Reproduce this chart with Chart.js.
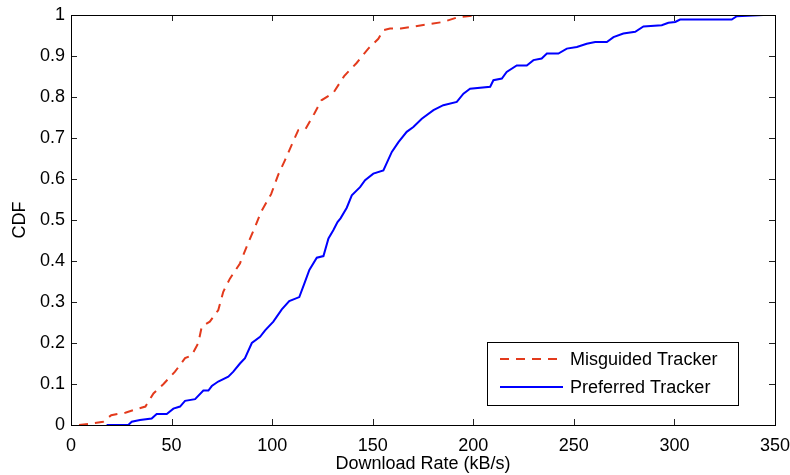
<!DOCTYPE html>
<html>
<head>
<meta charset="utf-8">
<script src="https://cdn.jsdelivr.net/npm/chart.js@4.4.1/dist/chart.umd.min.js"></script>
<style>
  html, body { margin: 0; padding: 0; background: #fff; }
  #chart { display: block; }
</style>
</head>
<body>
<canvas id="chart" width="790" height="475"></canvas>
<script>
// CDF of download rate
const misguidedRate = [4, 9, 16, 20, 27, 33.5, 37, 41, 46, 51.7, 56.7, 60, 63.3, 65, 69, 73.2, 75.7, 79, 84, 88,
    91.5, 94.5, 99.5, 103, 106.4, 110.5, 113, 116.5, 121, 124.5, 130.4, 135.8, 142, 147.8, 152.8, 155.3,
    158.6, 164, 174.4, 185, 192.6, 203.4];
const misguidedCdf = [0, 0.003, 0.008, 0.024, 0.03, 0.04, 0.045, 0.077, 0.10, 0.13, 0.163, 0.17, 0.2, 0.24, 0.252,
    0.28, 0.325, 0.357, 0.394, 0.443, 0.483, 0.52, 0.563, 0.61, 0.646, 0.692, 0.719, 0.721, 0.76, 0.792, 0.81,
    0.851, 0.883, 0.918, 0.942, 0.963, 0.967, 0.967, 0.975, 0.983, 0.995, 1.0];

const preferredRate = [17.7, 28.5, 30.2, 34.3, 40.1, 42.6, 47.6, 50.9, 54.2, 56.7, 61.7, 65.8, 68.3, 70, 73.2, 78.2,
    80.7, 84, 86.5, 89.9, 94, 96.5, 100.6, 104.8, 108.5, 113.5, 116, 118.5, 122.2, 125.5, 128, 130.4, 132.5, 134,
    137.1, 139.6, 143.7, 146.2, 150.3, 155.3, 159.5, 162.8, 166.9, 170.2, 174.4, 180.2, 185.1, 191.8, 195.1,
    198.4, 208.4, 210, 214.2, 216.6, 221.6, 226.6, 229.9, 234, 236.6, 242.3, 246.5, 251.5, 256.4, 260.6, 266.4,
    269.7, 274.6, 280.5, 284.6, 293.7, 297, 300.4, 302.8, 328.5, 331, 344.3];
const preferredCdf = [0, 0, 0.008, 0.012, 0.016, 0.027, 0.027, 0.04, 0.045, 0.059, 0.063, 0.084, 0.084, 0.095, 0.106,
    0.118, 0.13, 0.15, 0.163, 0.2, 0.215, 0.231, 0.252, 0.282, 0.302, 0.312, 0.345, 0.378, 0.408, 0.412, 0.455,
    0.475, 0.495, 0.504, 0.53, 0.56, 0.58, 0.597, 0.613, 0.621, 0.666, 0.69, 0.715, 0.727, 0.747, 0.768, 0.78,
    0.788, 0.808, 0.82, 0.825, 0.841, 0.845, 0.861, 0.877, 0.877, 0.89, 0.894, 0.906, 0.906, 0.918, 0.922, 0.93,
    0.934, 0.934, 0.946, 0.955, 0.959, 0.972, 0.975, 0.981, 0.983, 0.989, 0.989, 0.997, 1.0];

const xTicks = [0, 50, 100, 150, 200, 250, 300, 350];
const yTicks = [0, 0.1, 0.2, 0.3, 0.4, 0.5, 0.6, 0.7, 0.8, 0.9, 1];
const yTickLabels = ['0', '0.1', '0.2', '0.3', '0.4', '0.5', '0.6', '0.7', '0.8', '0.9', '1'];

const FONT = '"Liberation Sans", Arial, Helvetica, sans-serif';

function toPoints(xs, ys) {
    return xs.map(function(x, i) { return { x: x, y: ys[i] }; });
}

// MATLAB style frame with inward ticks on all four sides
const framePlugin = {
    id: 'frame',
    afterDatasetsDraw: function(chart) {
        const ctx = chart.ctx;
        const a = chart.chartArea;
        const xs = chart.scales.x;
        const ys = chart.scales.y;
        const len = 6;
        ctx.save();
        ctx.strokeStyle = '#222';
        ctx.lineWidth = 1;
        ctx.beginPath();
        xTicks.forEach(function(v) {
            const px = Math.round(xs.getPixelForValue(v)) + 0.5;
            ctx.moveTo(px, a.bottom); ctx.lineTo(px, a.bottom - len);
            ctx.moveTo(px, a.top); ctx.lineTo(px, a.top + len);
        });
        yTicks.forEach(function(v) {
            const py = Math.round(ys.getPixelForValue(v)) + 0.5;
            ctx.moveTo(a.left, py); ctx.lineTo(a.left + len, py);
            ctx.moveTo(a.right, py); ctx.lineTo(a.right - len, py);
        });
        ctx.stroke();
        ctx.strokeStyle = '#000';
        ctx.strokeRect(Math.round(a.left) + 0.5, Math.round(a.top) + 0.5,
            Math.round(a.right - a.left), Math.round(a.bottom - a.top));
        ctx.restore();
    }
};

// Boxed legend in the lower right corner of the plot
const boxLegendPlugin = {
    id: 'boxLegend',
    afterDraw: function(chart) {
        const ctx = chart.ctx;
        const a = chart.chartArea;
        const w = 251, h = 63;
        const x0 = a.right - 37 - w;
        const y0 = a.bottom - 20 - h;
        ctx.save();
        ctx.fillStyle = '#fff';
        ctx.fillRect(x0, y0, w, h);
        ctx.strokeStyle = '#000';
        ctx.lineWidth = 1;
        ctx.strokeRect(x0 + 0.5, y0 + 0.5, w, h);
        chart.data.datasets.forEach(function(ds, i) {
            const y = y0 + 17 + i * 28;
            ctx.strokeStyle = ds.borderColor;
            ctx.lineWidth = ds.borderWidth;
            ctx.setLineDash(ds.borderDash || []);
            ctx.beginPath();
            ctx.moveTo(x0 + 13, y);
            ctx.lineTo(x0 + 76, y);
            ctx.stroke();
            ctx.setLineDash([]);
            ctx.fillStyle = '#000';
            ctx.font = '18px ' + FONT;
            ctx.textBaseline = 'middle';
            ctx.fillText(ds.label, x0 + 83, y + 1);
        });
        ctx.restore();
    }
};

new Chart(document.getElementById('chart'), {
    type: 'line',
    data: {
        datasets: [{
            label: 'Misguided Tracker',
            data: toPoints(misguidedRate, misguidedCdf),
            borderColor: '#e33a1c',
            borderWidth: 2,
            borderDash: [9, 7],
            pointRadius: 0,
            fill: false,
            tension: 0
        }, {
            label: 'Preferred Tracker',
            data: toPoints(preferredRate, preferredCdf),
            borderColor: '#0000ff',
            borderWidth: 2,
            pointRadius: 0,
            fill: false,
            tension: 0
        }]
    },
    options: {
        responsive: false,
        animation: false,
        layout: { padding: { top: 15, right: 15, left: 0, bottom: 0 } },
        plugins: {
            legend: { display: false },
            tooltip: { enabled: false }
        },
        scales: {
            x: {
                type: 'linear',
                min: 0,
                max: 350,
                afterFit: function(s) {
                    s.height = 50;
                    s.paddingLeft = 0;
                    s.paddingRight = 0;
                },
                afterBuildTicks: function(s) { s.ticks = xTicks.map(function(v) { return { value: v }; }); },
                grid: { display: false, drawTicks: false },
                border: { display: false },
                ticks: {
                    color: '#000',
                    padding: 10,
                    maxRotation: 0,
                    font: { family: FONT, size: 18 }
                },
                title: {
                    display: true,
                    text: 'Download Rate (kB/s)',
                    color: '#000',
                    padding: 0,
                    font: { family: FONT, size: 18 }
                }
            },
            y: {
                type: 'linear',
                min: 0,
                max: 1,
                afterFit: function(s) {
                    s.width = 71;
                    s.paddingTop = 0;
                    s.paddingBottom = 0;
                },
                afterBuildTicks: function(s) { s.ticks = yTicks.map(function(v) { return { value: v }; }); },
                grid: { display: false, drawTicks: false },
                border: { display: false },
                ticks: {
                    color: '#000',
                    padding: 6,
                    font: { family: FONT, size: 18 },
                    callback: function(value, index) { return yTickLabels[index]; }
                },
                title: {
                    display: true,
                    text: 'CDF',
                    color: '#000',
                    padding: { top: 9, bottom: 0 },
                    font: { family: FONT, size: 18 }
                }
            }
        }
    },
    plugins: [framePlugin, boxLegendPlugin]
});
</script>
</body>
</html>
